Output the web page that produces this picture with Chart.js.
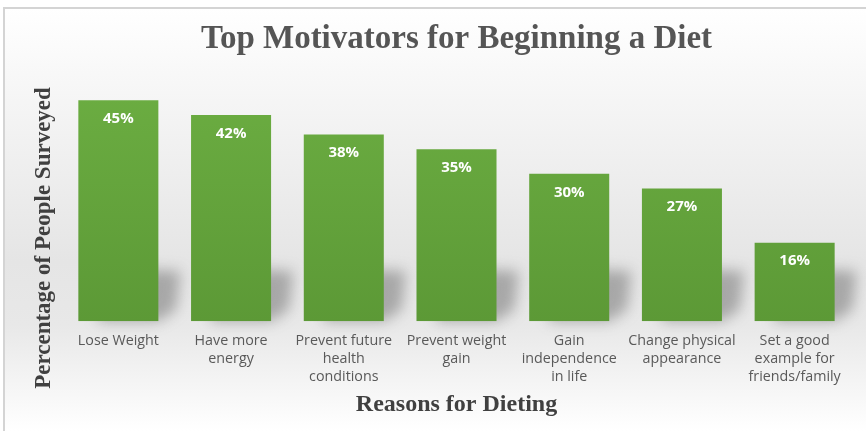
<!DOCTYPE html>
<html>
<head>
<meta charset="utf-8">
<script src="https://cdn.jsdelivr.net/npm/chart.js@4.4.1/dist/chart.umd.min.js"></script>
<style>
  html, body { margin: 0; padding: 0; background: #fff; }
  #wrap { width: 866px; height: 431px; position: relative; }
</style>
</head>
<body>
<div id="wrap"><canvas id="chart" width="866" height="431"></canvas></div>
<script>
const reasons = [
    "Lose Weight",
    ["Have more", "energy"],
    ["Prevent future", "health", "conditions"],
    ["Prevent weight", "gain"],
    ["Gain", "independence", "in life"],
    ["Change physical", "appearance"],
    ["Set a good", "example for", "friends/family"]
]
const percents = [45, 42, 38, 35, 30, 27, 16]

const serif = "'Liberation Serif', 'Times New Roman', serif"
const sans = "'Open Sans', 'Noto Sans', sans-serif"

// panel background, frame and the soft floor shadows behind each bar
const backdrop = {
    id: 'backdrop',
    beforeDraw(chart) {
        const ctx = chart.ctx
        const w = chart.width, h = chart.height
        ctx.save()
        const g = ctx.createLinearGradient(0, 8, 0, h)
        g.addColorStop(0, '#ffffff')
        g.addColorStop(0.2, '#f6f6f6')
        g.addColorStop(0.6, '#e5e5e5')
        g.addColorStop(0.75, '#e8e8e8')
        g.addColorStop(1, '#ffffff')
        ctx.fillStyle = g
        ctx.fillRect(3, 8, w - 3, h - 8)
        ctx.strokeStyle = '#d4d4d4'
        ctx.lineWidth = 2
        ctx.strokeRect(4, 8, w, h)

        const bars = chart.getDatasetMeta(0).data
        ctx.filter = 'blur(7px)'
        ctx.fillStyle = 'rgba(90,90,90,0.45)'
        bars.forEach(b => {
            const l = b.x - b.width / 2, r = b.x + b.width / 2, base = b.base
            ctx.beginPath()
            ctx.moveTo(l + 20, base - 54)
            ctx.lineTo(r + 22, base - 50)
            ctx.lineTo(r + 18, base - 12)
            ctx.lineTo(r, base)
            ctx.lineTo(l + 20, base)
            ctx.closePath()
            ctx.fill()
        })
        ctx.restore()
    },
    afterDraw(chart) {
        const ctx = chart.ctx
        const bars = chart.getDatasetMeta(0).data
        ctx.save()
        // values inside the top of each bar
        ctx.fillStyle = '#ffffff'
        ctx.font = 'bold 15px ' + sans
        ctx.textAlign = 'center'
        ctx.textBaseline = 'middle'
        bars.forEach((b, i) => {
            ctx.fillText(percents[i] + '%', b.x, b.y + 18.5)
        })
        // y axis title
        ctx.fillStyle = '#404040'
        ctx.font = 'bold 23px ' + serif
        ctx.translate(44, 238)
        ctx.rotate(-Math.PI / 2)
        ctx.fillText('Percentage of People Surveyed', 0, 0)
        ctx.restore()
    }
}

new Chart("chart", {
    type: 'bar',
    data: {
        labels: reasons,
        datasets: [{
            data: percents,
            backgroundColor: function(context) {
                const area = context.chart.chartArea
                if (!area) return '#64a23c'
                const g = context.chart.ctx.createLinearGradient(0, area.top, 0, area.bottom)
                g.addColorStop(0, '#6cae42')
                g.addColorStop(1, '#5c9936')
                return g
            },
            barPercentage: 0.71,
            categoryPercentage: 1
        }]
    },
    options: {
        responsive: false,
        animation: false,
        layout: {
            padding: { left: 62, right: 15, top: 0, bottom: 3 }
        },
        plugins: {
            legend: { display: false },
            tooltip: { enabled: false },
            title: {
                display: true,
                text: 'Top Motivators for Beginning a Diet',
                color: '#555555',
                font: { family: serif, size: 33, weight: 'bold' },
                padding: { top: 20, bottom: 16 }
            }
        },
        scales: {
            x: {
                grid: { display: false, drawTicks: false },
                border: { display: false },
                ticks: {
                    color: '#595959',
                    font: { family: sans, size: 14.3, lineHeight: 1.29 },
                    maxRotation: 0,
                    autoSkip: false,
                    padding: 10
                },
                title: {
                    display: true,
                    text: 'Reasons for Dieting',
                    color: '#404040',
                    font: { family: serif, size: 24, weight: 'bold' },
                    padding: { top: -6, bottom: 8.6 }
                }
            },
            y: {
                display: false,
                min: 0,
                max: 50
            }
        }
    },
    plugins: [backdrop]
});
</script>
</body>
</html>
